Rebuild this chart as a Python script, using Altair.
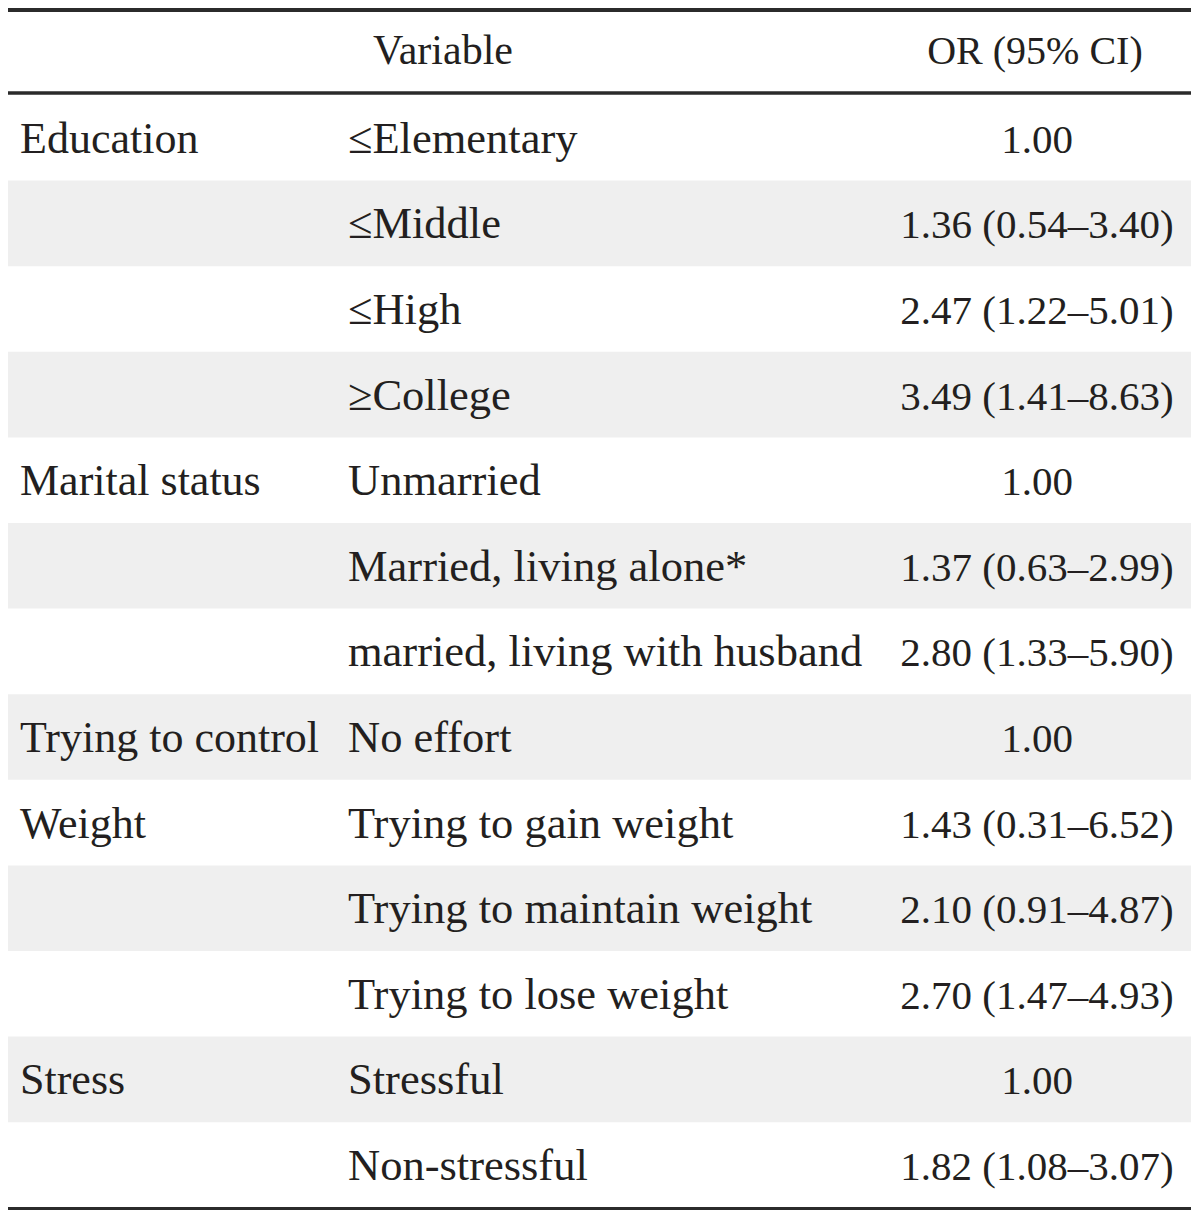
import altair as alt
import pandas as pd

groups = ["Education", "", "", "", "Marital status", "", "", "Trying to control",
          "Weight", "", "", "Stress", ""]
variables = ["≤Elementary", "≤Middle", "≤High", "≥College", "Unmarried",
             "Married, living alone*", "married, living with husband", "No effort",
             "Trying to gain weight", "Trying to maintain weight", "Trying to lose weight",
             "Stressful", "Non-stressful"]
ors = ["1.00", "1.36 (0.54–3.40)", "2.47 (1.22–5.01)", "3.49 (1.41–8.63)", "1.00",
       "1.37 (0.63–2.99)", "2.80 (1.33–5.90)", "1.00", "1.43 (0.31–6.52)",
       "2.10 (0.91–4.87)", "2.70 (1.47–4.93)", "1.00", "1.82 (1.08–3.07)"]
headers = ["Variable", "OR (95% CI)"]

n = len(variables)
df = pd.DataFrame({
    "row": list(range(n)),
    "group": groups,
    "variable": variables,
    "or": ors,
})
df["shade"] = df["row"] % 2 == 1

FONT = "Liberation Serif"
TXT = "#231f20"
LINE = "#2b2b2b"

yscale = alt.Scale(domain=[0, n], range=[87, 1199.8], zero=False, nice=False)

base = alt.Chart(df)

bands = base.transform_filter("datum.shade").transform_calculate(
    r2="datum.row + 1"
).mark_rect(color="#efefef").encode(
    x=alt.value(0), x2=alt.value(1183),
    y=alt.Y("row:Q", scale=yscale, axis=None),
    y2="r2:Q",
)

centered = base.transform_calculate(rc="datum.row + 0.5")

t_group = centered.mark_text(align="left", baseline="alphabetic", dy=15,
                             font=FONT, fontSize=44, color=TXT).encode(
    x=alt.value(12),
    y=alt.Y("rc:Q", scale=yscale, axis=None),
    text="group:N",
)
t_var = centered.mark_text(align="left", baseline="alphabetic", dy=15,
                           font=FONT, fontSize=44.5, color=TXT).encode(
    x=alt.value(340),
    y=alt.Y("rc:Q", scale=yscale, axis=None),
    text="variable:N",
)
t_or = centered.mark_text(align="center", baseline="alphabetic", dy=15,
                          font=FONT, fontSize=41, color=TXT).encode(
    x=alt.value(1029),
    y=alt.Y("rc:Q", scale=yscale, axis=None),
    text="or:N",
)

hdf = pd.DataFrame({"h": headers, "col": [0, 1]})
hbase = alt.Chart(hdf)
h1 = hbase.transform_filter("datum.col == 0").mark_text(
    align="center", baseline="alphabetic", font=FONT, fontSize=42, color=TXT
).encode(x=alt.value(435), y=alt.value(56), text="h:N")
h2 = hbase.transform_filter("datum.col == 1").mark_text(
    align="center", baseline="alphabetic", font=FONT, fontSize=40, color=TXT
).encode(x=alt.value(1027), y=alt.value(56), text="h:N")

rule_top = hbase.transform_filter("datum.col == 0").mark_rule(
    color=LINE, strokeWidth=5
).encode(x=alt.value(0), x2=alt.value(1183), y=alt.value(1.5))
rule_head = hbase.transform_filter("datum.col == 0").mark_rule(
    color=LINE, strokeWidth=3.5
).encode(x=alt.value(0), x2=alt.value(1183), y=alt.value(85))
rule_bot = hbase.transform_filter("datum.col == 0").mark_rule(
    color=LINE, strokeWidth=3
).encode(x=alt.value(0), x2=alt.value(1183), y=alt.value(1200.5))

chart = alt.layer(
    bands, t_group, t_var, t_or, h1, h2, rule_top, rule_head, rule_bot
).properties(
    width=1184, height=1204,
    autosize=alt.AutoSizeParams(type="none"),
    padding=0,
    background="white",
).configure_view(stroke=None)

chart.save("out.html", embed_options={"renderer": "svg", "actions": False})
